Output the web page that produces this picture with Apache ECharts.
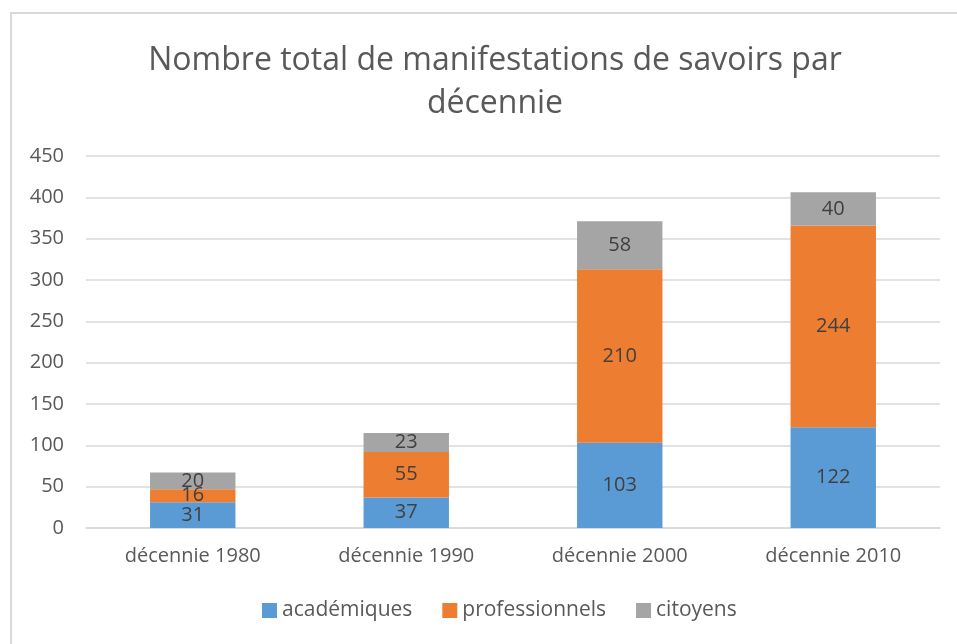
<!DOCTYPE html>
<html><head><meta charset="utf-8">
<script src="https://cdn.jsdelivr.net/npm/echarts@6/dist/echarts.min.js"></script>
<style>html,body{margin:0;padding:0;background:#fff;}#c{width:957px;height:644px;}
#frame{position:absolute;left:10px;top:12px;width:960px;height:640px;border-left:2px solid #d9d9d9;border-top:2px solid #d9d9d9;pointer-events:none;}</style>
</head><body><div id="c"></div><div id="frame"></div>
<script>
const categories = ['décennie 1980', 'décennie 1990', 'décennie 2000', 'décennie 2010'];
const academiques = [31, 37, 103, 122];
const professionnels = [16, 55, 210, 244];
const citoyens = [20, 23, 58, 40];
const seriesNames = ['académiques', 'professionnels', 'citoyens'];
const colors = ['#5B9BD5', '#ED7D31', '#A5A5A5'];
const FONT = 'Open Sans';
const chart = echarts.init(document.getElementById('c'));
const lbl = {show: true, position: 'inside', color: '#404040', fontSize: 20, fontFamily: FONT};
chart.setOption({
  animation: false,
  color: colors,
  title: {
    text: 'Nombre total de manifestations de savoirs par\ndécennie',
    left: 490, top: 34, textAlign: 'center',
    textStyle: {fontFamily: FONT, fontSize: 32, fontWeight: 'normal', color: '#595959', lineHeight: 43}
  },
  legend: {
    bottom: 18, left: 257, itemWidth: 15, itemHeight: 15, itemGap: 30,
    icon: 'rect',
    textStyle: {fontFamily: FONT, fontSize: 21, color: '#595959'},
    data: seriesNames
  },
  grid: {left: 86, right: 17, top: 156, bottom: 116, containLabel: false},
  xAxis: {
    type: 'category', data: categories,
    axisLine: {lineStyle: {color: '#d9d9d9', width: 1.5}},
    axisTick: {show: false},
    axisLabel: {fontFamily: FONT, fontSize: 20, color: '#595959', margin: 18}
  },
  yAxis: {
    type: 'value', min: 0, max: 450, interval: 50,
    axisLine: {show: false}, axisTick: {show: false},
    splitLine: {lineStyle: {color: '#d9d9d9', width: 1.5}},
    axisLabel: {fontFamily: FONT, fontSize: 20, color: '#595959', margin: 22}
  },
  series: [
    {name: seriesNames[0], type: 'bar', stack: 's', barWidth: '40%', data: academiques, label: lbl},
    {name: seriesNames[1], type: 'bar', stack: 's', barWidth: '40%', data: professionnels, label: lbl},
    {name: seriesNames[2], type: 'bar', stack: 's', barWidth: '40%', data: citoyens, label: lbl}
  ]
});
</script></body></html>
